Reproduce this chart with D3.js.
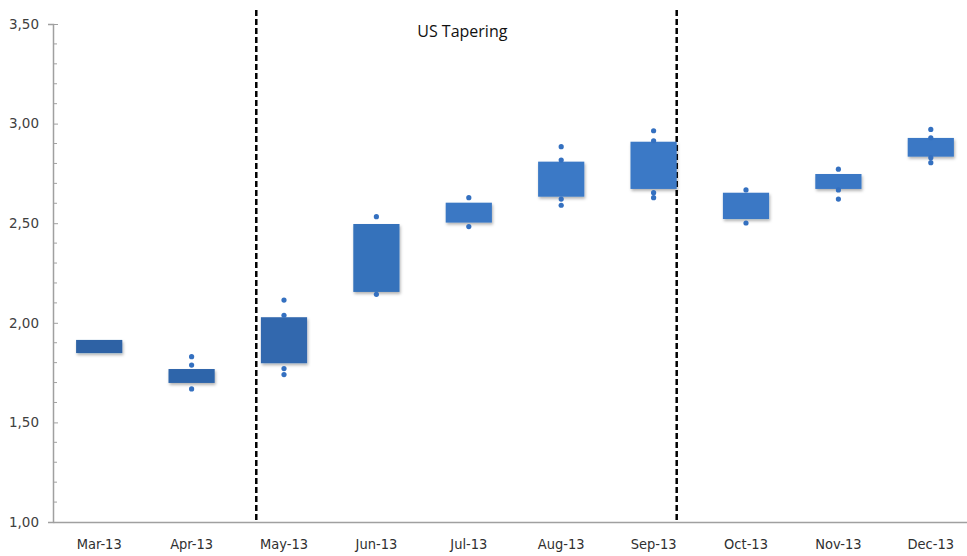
<!DOCTYPE html>
<html>
<head>
<meta charset="utf-8">
<script src="https://cdn.jsdelivr.net/npm/d3@7"></script>
<style>
  body { margin: 0; background: #fff; }
  svg { display: block; }
</style>
</head>
<body>
<svg id="chart" width="967" height="556"></svg>
<script>
const months = ["Mar-13", "Apr-13", "May-13", "Jun-13", "Jul-13", "Aug-13", "Sep-13", "Oct-13", "Nov-13", "Dec-13"];
const boxLow  = [1.848, 1.698, 1.797, 2.155, 2.503, 2.633, 2.672, 2.521, 2.672, 2.834];
const boxHigh = [1.914, 1.768, 2.028, 2.496, 2.603, 2.809, 2.909, 2.653, 2.747, 2.928];
const points = [
  [],
  [1.830, 1.788, 1.668],
  [2.114, 2.038, 1.770, 1.740],
  [2.533, 2.143],
  [2.628, 2.483],
  [2.884, 2.817, 2.621, 2.590],
  [2.964, 2.914, 2.653, 2.628],
  [2.667, 2.501],
  [2.771, 2.667, 2.621],
  [2.971, 2.929, 2.829, 2.804]
];
const yTicks = [1.0, 1.5, 2.0, 2.5, 3.0, 3.5];
// divider positions in month-index units (0 = left edge of Mar-13)
const dividers = [2.2, 6.75];
const dividerLabel = "US Tapering";
const labelPos = 4.43;

const svg = d3.select("#chart");
const mLeft = 53, mTop = 24, mBottom = 522, mRight = 977;

const x = d3.scaleBand().domain(months).range([mLeft, mRight]);
const xi = d3.scaleLinear().domain([0, months.length]).range([mLeft, mRight]);
const y = d3.scaleLinear().domain([1, 3.5]).range([mBottom, mTop]);

const defs = svg.append("defs");
const f = defs.append("filter").attr("id", "shadow")
  .attr("x", "-20%").attr("y", "-20%").attr("width", "140%").attr("height", "160%");
f.append("feDropShadow").attr("dx", 1).attr("dy", 2).attr("stdDeviation", 1.5)
  .attr("flood-color", "#000").attr("flood-opacity", 0.3);

// y axis
const yAxis = svg.append("g")
  .attr("transform", "translate(" + mLeft + ",0)")
  .call(d3.axisLeft(y).tickValues(yTicks).tickSize(5).tickPadding(9)
    .tickFormat(d => d3.format(".2f")(d).replace(".", ",")));
yAxis.select(".domain").attr("stroke", "#a0a0a0").attr("stroke-width", 1.5);
yAxis.selectAll(".tick line").attr("stroke", "#a0a0a0").attr("x1", 0).attr("x2", 5);
yAxis.selectAll("text").attr("font-family", "DejaVu Sans").attr("font-size", 13.5).attr("fill", "#404040");

// minor ticks
svg.append("g").selectAll("line")
  .data(d3.range(1.1, 3.5, 0.1).filter(v => Math.abs(v * 2 - Math.round(v * 2)) > 0.01))
  .enter().append("line")
  .attr("x1", mLeft).attr("x2", mLeft + 4)
  .attr("y1", d => y(d)).attr("y2", d => y(d))
  .attr("stroke", "#a0a0a0");

// x axis
const xAxis = svg.append("g")
  .attr("transform", "translate(0," + mBottom + ")")
  .call(d3.axisBottom(x).tickSize(0).tickPadding(17));
xAxis.select(".domain").attr("stroke", "#a0a0a0").attr("stroke-width", 1.5);
xAxis.selectAll("text").attr("font-family", "DejaVu Sans Condensed").attr("font-size", 14.5).attr("fill", "#303030");

// dividers
svg.append("g").selectAll("line")
  .data(dividers).enter().append("line")
  .attr("x1", d => xi(d)).attr("x2", d => xi(d))
  .attr("y1", 10).attr("y2", mBottom)
  .attr("stroke", "#000").attr("stroke-width", 2.5)
  .attr("stroke-dasharray", "6,3");

svg.append("text")
  .attr("x", xi(labelPos))
  .attr("y", 37)
  .attr("text-anchor", "middle")
  .attr("font-family", "Open Sans").attr("font-size", 16).attr("fill", "#111")
  .text(dividerLabel);

const colors = ["#2e62a5", "#2f65aa", "#3068ae", "#3572bb", "#3a78c4", "#3b79c6", "#3b79c6", "#3a78c5", "#3a78c5", "#3a78c5"];
const bw = x.bandwidth() * 0.5;

svg.append("g").selectAll("rect")
  .data(months).enter().append("rect")
  .attr("x", d => x(d) + x.bandwidth() / 2 - bw / 2)
  .attr("width", bw)
  .attr("y", (d, i) => y(boxHigh[i]))
  .attr("height", (d, i) => y(boxLow[i]) - y(boxHigh[i]))
  .attr("fill", (d, i) => colors[i])
  .attr("filter", "url(#shadow)");

const dots = [];
points.forEach((arr, i) => arr.forEach(v => dots.push({ m: months[i], v: v })));
svg.append("g").selectAll("circle")
  .data(dots).enter().append("circle")
  .attr("cx", d => x(d.m) + x.bandwidth() / 2)
  .attr("cy", d => y(d.v))
  .attr("r", 2.6)
  .attr("fill", "#3470c0");
</script>
</body>
</html>
